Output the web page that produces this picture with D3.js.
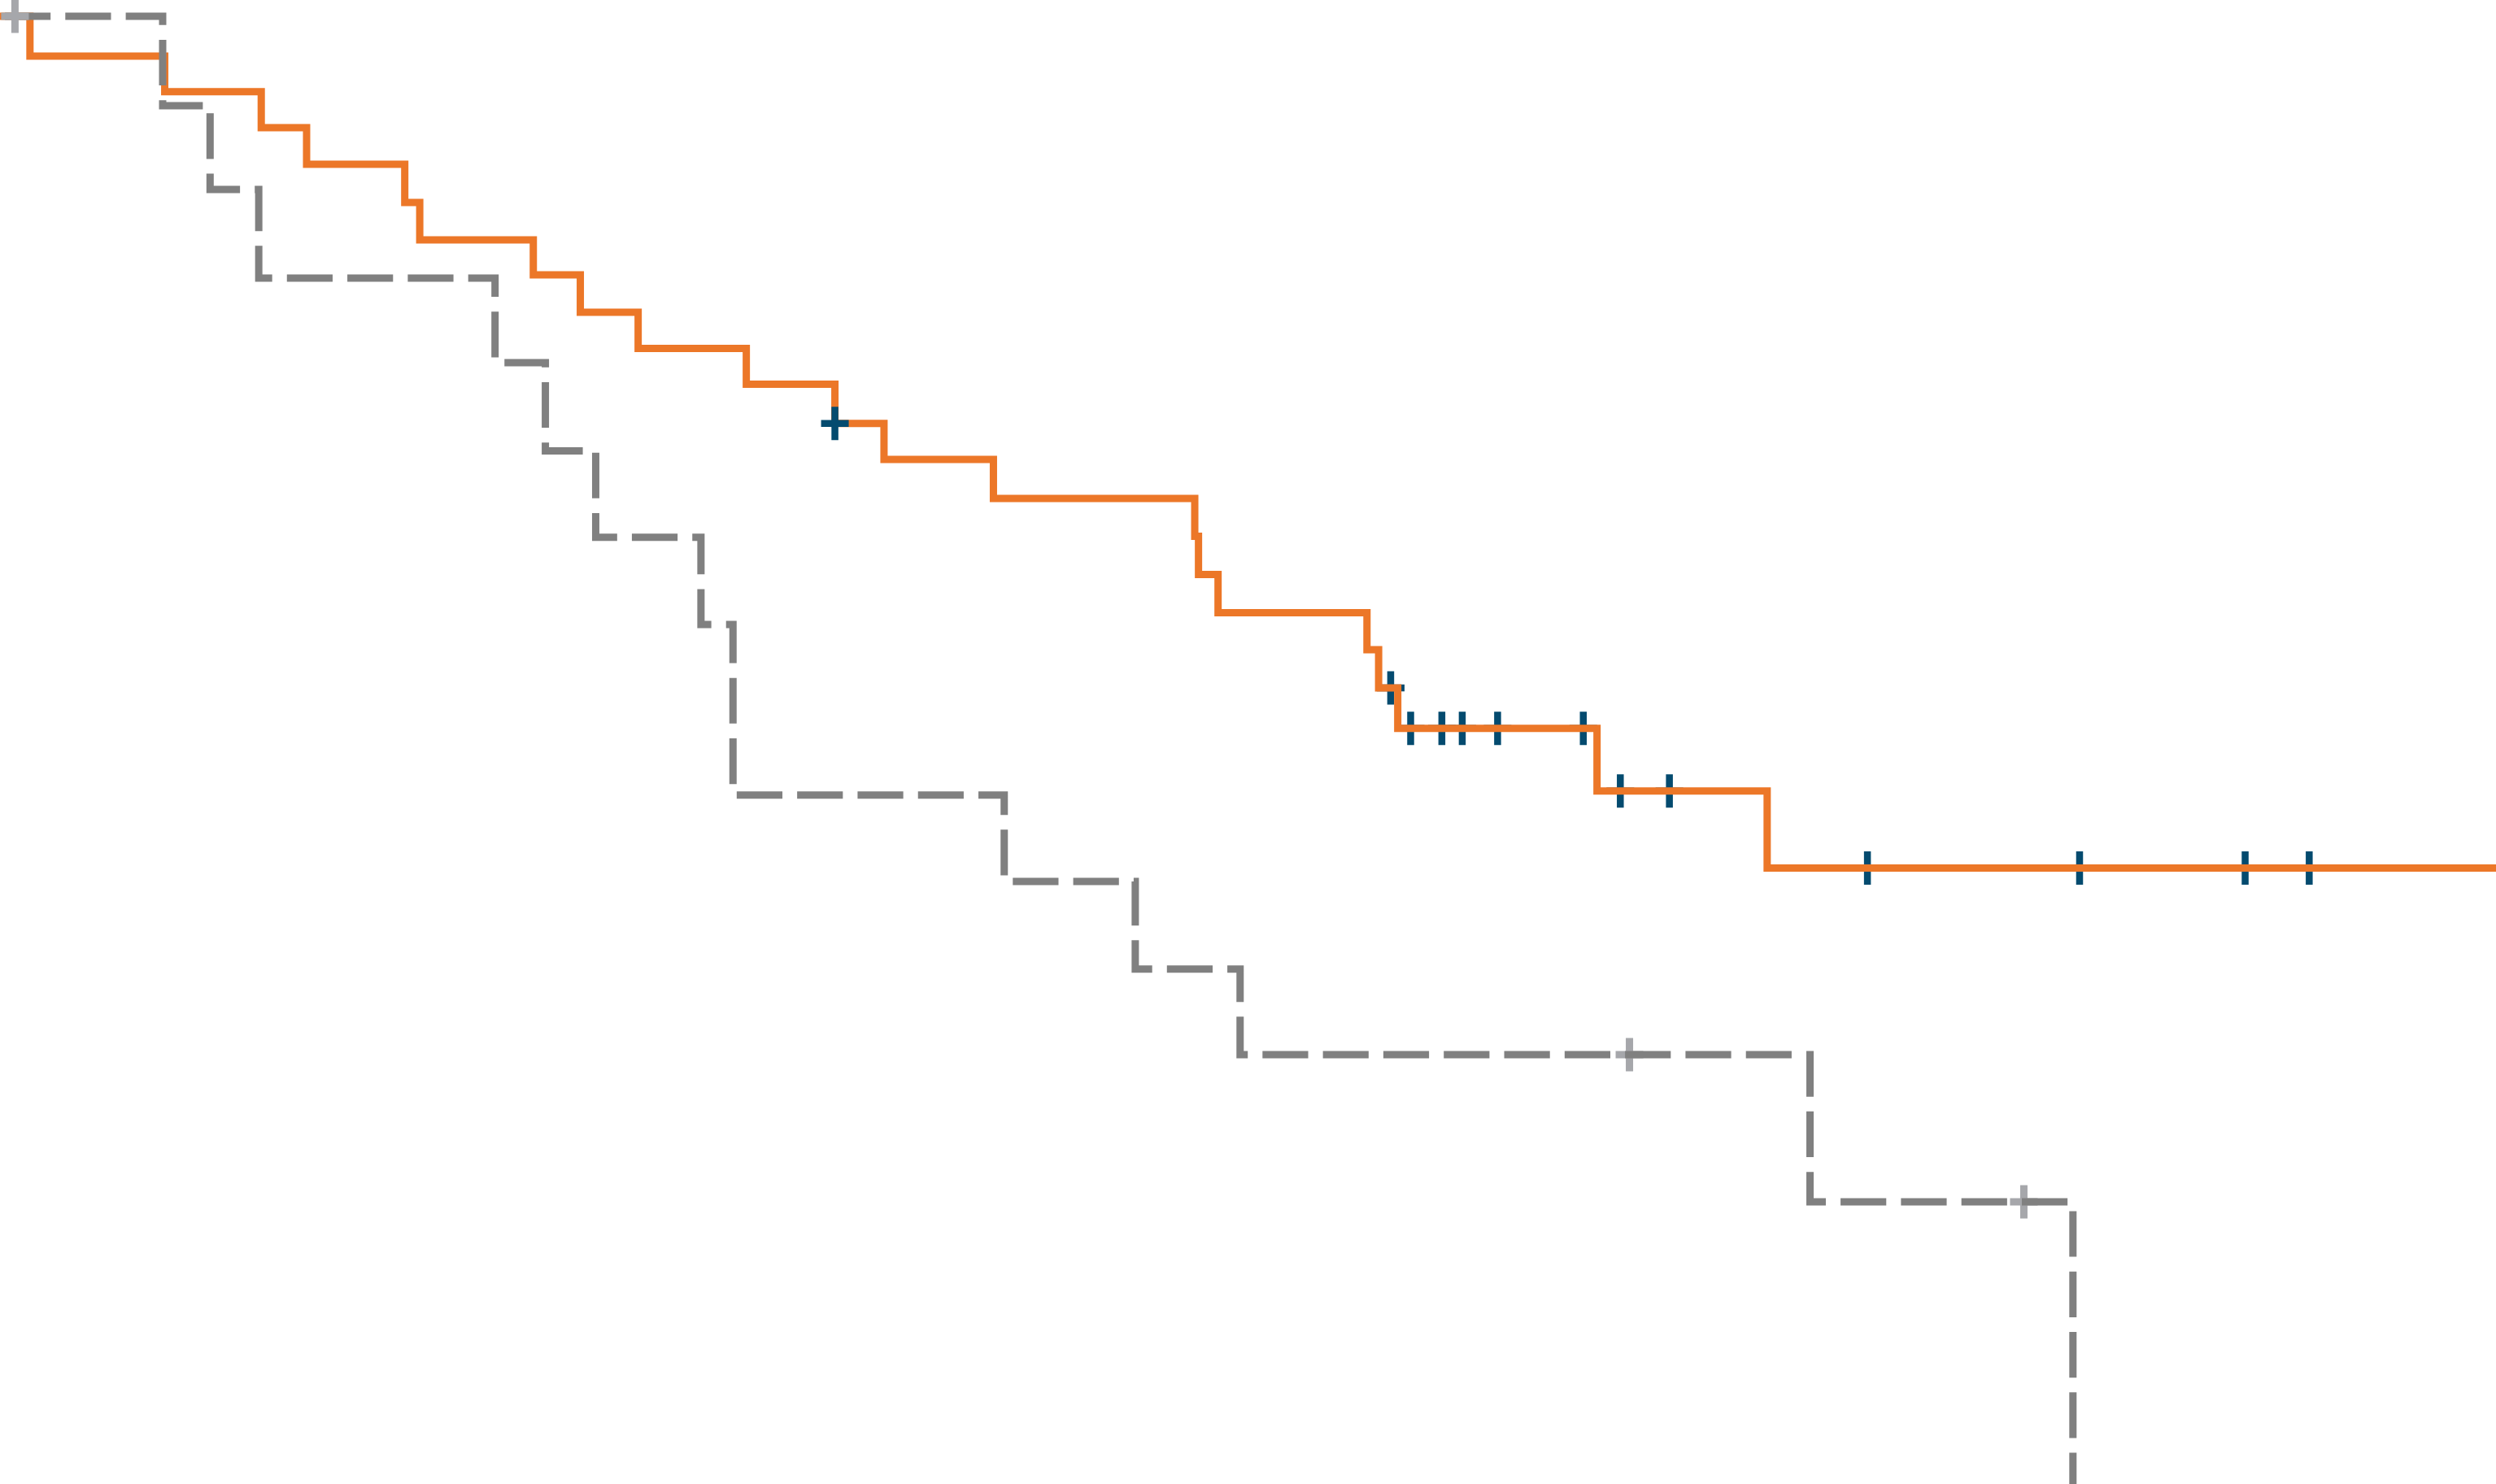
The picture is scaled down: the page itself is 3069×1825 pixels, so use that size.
<!DOCTYPE html>
<html>
<head>
<meta charset="utf-8">
<script src="https://cdn.jsdelivr.net/npm/d3@7"></script>
<style>
  html, body { margin: 0; padding: 0; background: #ffffff; overflow: hidden; }
  svg { display: block; }
</style>
</head>
<body>
<script>
// ---- Data (time in months, survival probability) ----
const orangeTimes = [0, 0.72, 3.96, 6.28, 7.37, 9.73, 10.09, 12.82, 13.95, 15.34, 17.94, 20.07, 21.25, 23.88, 28.72, 28.81, 29.28, 32.86, 33.14, 33.60, 38.39, 42.48];
const orangeSurv  = [1.0, 0.9746, 0.9520, 0.9290, 0.9057, 0.8813, 0.8575, 0.8352, 0.8114, 0.7883, 0.7655, 0.7405, 0.7176, 0.6927, 0.6687, 0.6443, 0.6199, 0.5964, 0.5720, 0.5463, 0.5064, 0.4572];
const orangeCensorTimes = [20.07, 33.43, 33.91, 34.66, 35.15, 36.00, 38.06, 38.95, 40.13, 44.89, 49.99, 53.97, 55.51];
const orangeEndTime = 60;

const greyTimes = [0, 3.91, 5.05, 6.22, 11.90, 13.11, 14.32, 16.85, 17.62, 24.14, 27.29, 29.81, 43.51, 49.83];
const greySurv  = [1.0, 0.9430, 0.8897, 0.8332, 0.7793, 0.7231, 0.6680, 0.6125, 0.5038, 0.4487, 0.3929, 0.3383, 0.2446, 0];
const greyCensorTimes = [0.36, 39.17, 48.65];

// ---- Layout ----
const W = 3069, H = 1825;
const x = d3.scaleLinear().domain([0, 60]).range([0, W]);
const y = d3.scaleLinear().domain([0, 1]).range([1950, 20]);

const svg = d3.select("body").append("svg").attr("width", W).attr("height", H);
svg.append("rect").attr("width", W).attr("height", H).attr("fill", "#ffffff");

function stepValue(times, surv, t) {
  let s = surv[0];
  for (let i = 0; i < times.length; i++) { if (times[i] <= t + 1e-9) s = surv[i]; }
  return s;
}

const line = d3.line().x(d => x(d[0])).y(d => y(d[1])).curve(d3.curveStepAfter);

const orangePts = orangeTimes.map((t, i) => [t, orangeSurv[i]]);
orangePts.push([orangeEndTime, orangeSurv[orangeSurv.length - 1]]);
const greyPts = greyTimes.map((t, i) => [t, greySurv[i]]);

const crossPath = "M-17,0H17M0,-20.5V20.5";

function drawCensors(g, cTimes, evTimes, surv, color, width) {
  g.selectAll("path").data(cTimes).join("path")
    .attr("d", crossPath)
    .attr("transform", t => `translate(${x(t)},${y(stepValue(evTimes, surv, t))})`)
    .attr("fill", "none").attr("stroke", color).attr("stroke-width", width);
}

const ORANGE = "#EC7728", DARKBLUE = "#044B6F", GREY = "#808080", LIGHTGREY = "#A6A7AB";

// censor marks beneath the lines
const under = svg.append("g");
drawCensors(under.append("g"), orangeCensorTimes.slice(1), orangeTimes, orangeSurv, DARKBLUE, 8.5);
drawCensors(under.append("g"), greyCensorTimes.slice(1), greyTimes, greySurv, LIGHTGREY, 9);

// survival curves
svg.append("path").datum(orangePts).attr("d", line)
  .attr("fill", "none").attr("stroke", ORANGE).attr("stroke-width", 9)
  .attr("stroke-linejoin", "miter").attr("stroke-linecap", "butt");
svg.append("path").datum(greyPts).attr("d", line)
  .attr("fill", "none").attr("stroke", GREY).attr("stroke-width", 9)
  .attr("stroke-dasharray", "56.2,18.1").attr("stroke-dashoffset", 68.3)
  .attr("stroke-linejoin", "miter").attr("stroke-linecap", "butt");

// first censor mark of each group drawn above the curves
const over = svg.append("g");
drawCensors(over.append("g"), orangeCensorTimes.slice(0, 1), orangeTimes, orangeSurv, DARKBLUE, 8.5);
drawCensors(over.append("g"), greyCensorTimes.slice(0, 1), greyTimes, greySurv, LIGHTGREY, 9);
</script>
</body>
</html>
